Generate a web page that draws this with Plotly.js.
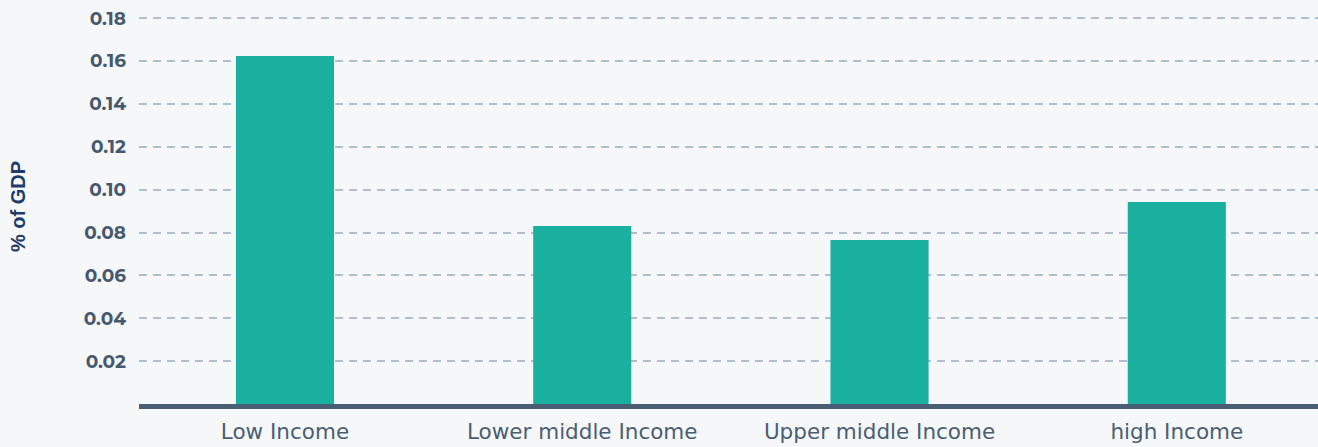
<!DOCTYPE html>
<html>
<head>
<meta charset="utf-8">
<script src="https://cdn.plot.ly/plotly-3.0.1.min.js"></script>
<style>
html,body{margin:0;padding:0;background:#f5f7f9;}
#chart{width:1318px;height:447px;}
</style>
</head>
<body>
<div id="chart"></div>
<script>
const categories = ["Low Income", "Lower middle Income", "Upper middle Income", "high Income"];
const values = [0.1623, 0.0830, 0.0765, 0.0942];
const yTickVals = [0.02, 0.04, 0.06, 0.08, 0.10, 0.12, 0.14, 0.16, 0.18];
const yTickText = ["0.02", "0.04", "0.06", "0.08", "0.10", "0.12", "0.14", "0.16", "0.18"];

const trace = {
  type: "bar",
  x: categories,
  y: values,
  marker: {color: "#19b0a0"},
  hoverinfo: "x+y"
};

const layout = {
  width: 1318,
  height: 447,
  margin: {l: 139, r: 0, t: 9, b: 43},
  paper_bgcolor: "#f5f7f9",
  plot_bgcolor: "#f5f7f9",
  bargap: 0.67,
  showlegend: false,
  xaxis: {
    type: "category",
    range: [-0.491, 3.475],
    showgrid: false,
    showline: true,
    linecolor: "#4a5e73",
    linewidth: 5,
    ticks: "",
    ticklabelstandoff: 4,
    tickfont: {family: "DejaVu Sans", size: 21.5, color: "#4a5e73"},
    fixedrange: true
  },
  yaxis: {
    range: [0, 0.18426],
    tickvals: yTickVals,
    ticktext: yTickText,
    showgrid: true,
    gridcolor: "#aebfcf",
    gridwidth: 2,
    griddash: "8px,6px",
    zeroline: false,
    showline: false,
    ticks: "",
    ticklabelstandoff: 12,
    tickfont: {family: "Montserrat, Lato, sans-serif", size: 18.5, color: "#47596e", weight: "bold"},
    title: {text: "% of GDP", font: {family: "Liberation Sans, Arial", size: 20, color: "#1f3d6b", weight: "bold"}, standoff: 52},
    fixedrange: true
  }
};

Plotly.newPlot("chart", [trace], layout, {displayModeBar: false, staticPlot: true});
</script>
</body>
</html>
